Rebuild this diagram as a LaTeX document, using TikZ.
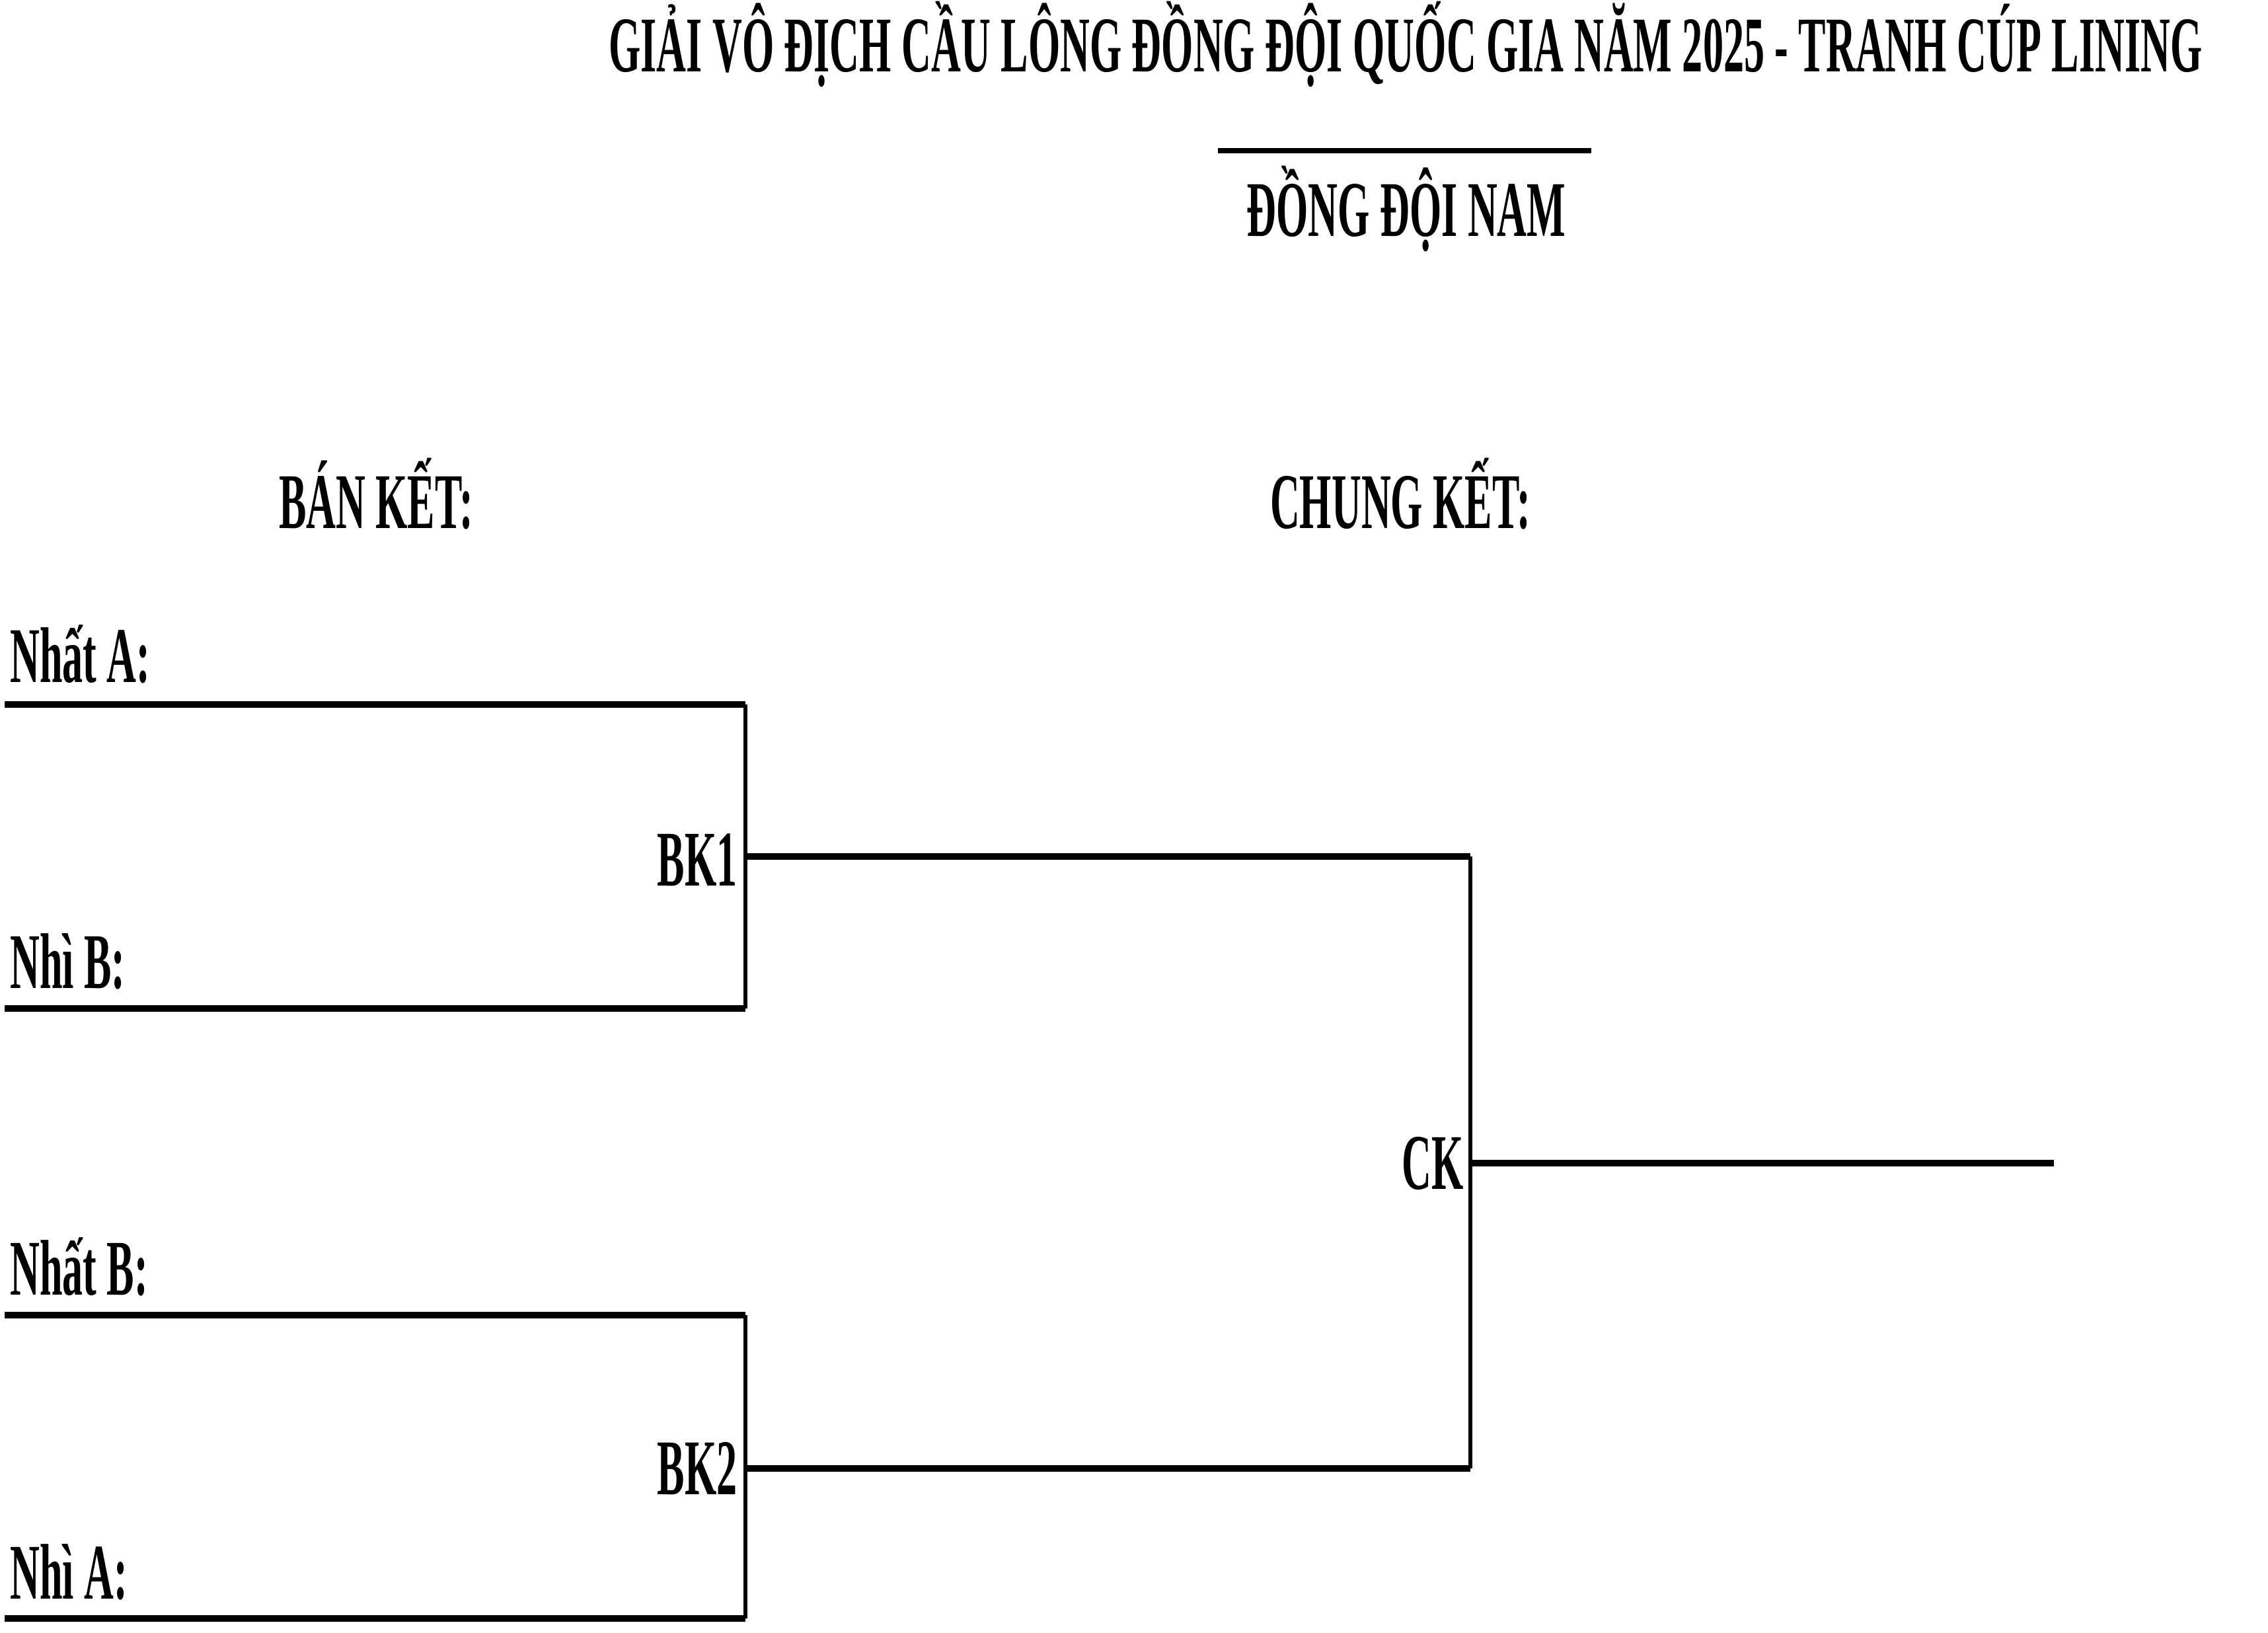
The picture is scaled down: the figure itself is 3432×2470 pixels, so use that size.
\documentclass[tikz,border=0pt]{standalone}
\usepackage{fontspec}
\setmainfont{Liberation Serif}[FakeStretch=0.52]
\begin{document}
\begin{tikzpicture}[x=0.5pt,y=-0.5pt,
  lbl/.style={inner sep=0pt,font=\bfseries\fontsize{59.7}{62}\selectfont},
  hline/.style={line width=5pt},
  vline/.style={line width=2.9pt}]
\useasboundingbox (0,0) rectangle (3432,2470);
% headings
\node[lbl,anchor=base] (title) at (2127,108) {GIẢI VÔ ĐỊCH CẦU LÔNG ĐỒNG ĐỘI QUỐC GIA NĂM 2025 - TRANH CÚP LINING};
\coordinate (ul1) at (1843,228);
\coordinate (ul2) at (2408,228);
\draw[line width=4pt] (ul1) -- (ul2);
\node[lbl,anchor=base] (sub) at (2128,357) {ĐỒNG ĐỘI NAM};
\node[lbl,anchor=base] (bk) at (569,799) {BÁN KẾT:};
\node[lbl,anchor=base] (ck) at (2119,799) {CHUNG KẾT:};
% team labels
\node[lbl,anchor=base west] (t1) at (15,1032) {Nhất A:};
\node[lbl,anchor=base west] (t2) at (15,1495) {Nhì B:};
\node[lbl,anchor=base west] (t3) at (15,1959) {Nhất B:};
\node[lbl,anchor=base west] (t4) at (15,2419) {Nhì A:};
% bracket coordinates
\coordinate (a1) at (7,1066);
\coordinate (b1) at (1128,1066);
\coordinate (a2) at (7,1526);
\coordinate (b2) at (1128,1526);
\coordinate (a3) at (7,1990);
\coordinate (b3) at (1128,1990);
\coordinate (a4) at (7,2449);
\coordinate (b4) at (1128,2449);
\coordinate (m1) at (1128,1296);
\coordinate (m2) at (1128,2222);
\coordinate (c1) at (2225,1296);
\coordinate (c2) at (2225,2222);
\coordinate (cm) at (2225,1760);
\coordinate (win) at (3108,1760);
\draw[hline] (a1) -- (b1);
\draw[hline] (a2) -- (b2);
\draw[hline] (a3) -- (b3);
\draw[hline] (a4) -- (b4);
\draw[vline] (b1) -- (b2);
\draw[vline] (b3) -- (b4);
\draw[hline] (m1) -- (c1);
\draw[hline] (m2) -- (c2);
\draw[vline] (c1) -- (c2);
\draw[hline] (cm) -- (win);
% match labels
\node[lbl,anchor=base east] (bk1) at (1116,1340) {BK1};
\node[lbl,anchor=base east] (bk2) at (1116,2261) {BK2};
\node[lbl,anchor=base east] (ckl) at (2215,1799) {CK};
\end{tikzpicture}
\end{document}
